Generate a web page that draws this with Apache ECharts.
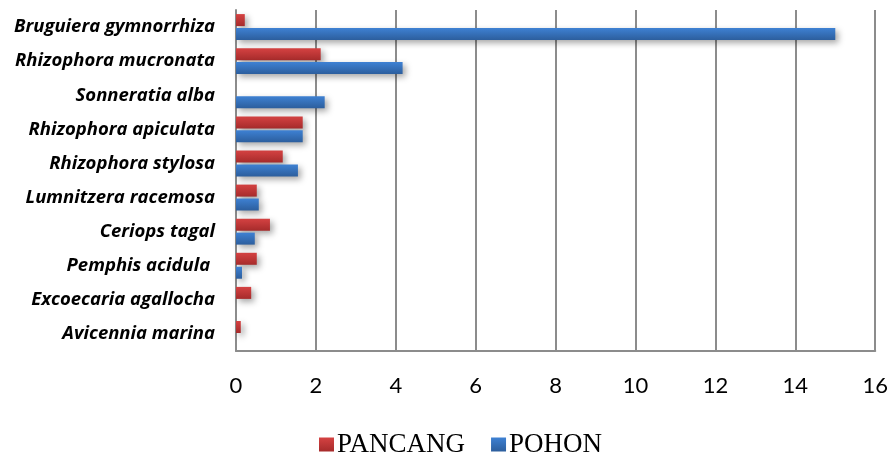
<!DOCTYPE html>
<html>
<head>
<meta charset="utf-8">
<script src="https://cdn.jsdelivr.net/npm/echarts@6/dist/echarts.min.js"></script>
<style>
  html, body { margin: 0; padding: 0; background: #ffffff; }
  #chart { width: 891px; height: 452px; }
</style>
</head>
<body>
<div id="chart"></div>
<script>
// Mangrove species, listed top to bottom
const species = [
  'Bruguiera gymnorrhiza',
  'Rhizophora mucronata',
  'Sonneratia alba',
  'Rhizophora apiculata',
  'Rhizophora stylosa',
  'Lumnitzera racemosa',
  'Ceriops tagal',
  'Pemphis acidula ',
  'Excoecaria agallocha',
  'Avicennia marina'
];
// Sapling (pancang) values
const pancang = [0.22, 2.12, 0, 1.67, 1.17, 0.52, 0.85, 0.52, 0.38, 0.12];
// Tree (pohon) values
const pohon = [15.0, 4.17, 2.22, 1.67, 1.55, 0.57, 0.47, 0.15, 0, 0];
const xTicks = [0, 2, 4, 6, 8, 10, 12, 14, 16];

function grad(top, bottom) {
  return new echarts.graphic.LinearGradient(0, 0, 0, 1, [
    { offset: 0, color: top },
    { offset: 1, color: bottom }
  ]);
}

const chart = echarts.init(document.getElementById('chart'));
chart.setOption({
  animation: false,
  backgroundColor: '#ffffff',
  grid: { left: 236, right: 15, top: 10, bottom: 101, containLabel: false },
  xAxis: {
    type: 'value',
    min: xTicks[0],
    max: xTicks[xTicks.length - 1],
    interval: 2,
    axisLine: { show: true, lineStyle: { color: '#8c8c8c', width: 2 } },
    axisTick: { show: false },
    axisLabel: {
      margin: 24,
      fontFamily: 'Lato',
      fontSize: 22,
      color: '#000000'
    },
    splitLine: { show: true, lineStyle: { color: '#8c8c8c', width: 2 } }
  },
  yAxis: {
    type: 'category',
    data: species,
    inverse: true,
    axisLine: { show: true, lineStyle: { color: '#8c8c8c', width: 2 } },
    axisTick: { show: false },
    axisLabel: {
      margin: 21,
      fontFamily: 'Open Sans',
      fontStyle: 'italic',
      fontWeight: 'bold',
      fontSize: 18.5,
      color: '#000000'
    }
  },
  legend: {
    top: 426,
    left: 314,
    icon: 'rect',
    itemWidth: 15,
    itemHeight: 14,
    itemGap: 26,
    textStyle: {
      fontFamily: 'Liberation Serif',
      fontSize: 27,
      color: '#000000',
      padding: [0, 0, 0, -2]
    },
    data: ['PANCANG', 'POHON']
  },
  series: [
    {
      name: 'PANCANG',
      type: 'bar',
      data: pancang,
      barWidth: 12,
      barGap: '16%',
      color: '#c0392b',
      itemStyle: {
        color: grad('#d54242', '#a62b2b'),
        shadowColor: 'rgba(0,0,0,0.35)',
        shadowBlur: 6,
        shadowOffsetX: 3,
        shadowOffsetY: 3
      }
    },
    {
      name: 'POHON',
      type: 'bar',
      data: pohon,
      barWidth: 12,
      color: '#3572c0',
      itemStyle: {
        color: grad('#3e81d3', '#2c5e9d'),
        shadowColor: 'rgba(0,0,0,0.35)',
        shadowBlur: 6,
        shadowOffsetX: 3,
        shadowOffsetY: 3
      }
    }
  ]
});
</script>
</body>
</html>
